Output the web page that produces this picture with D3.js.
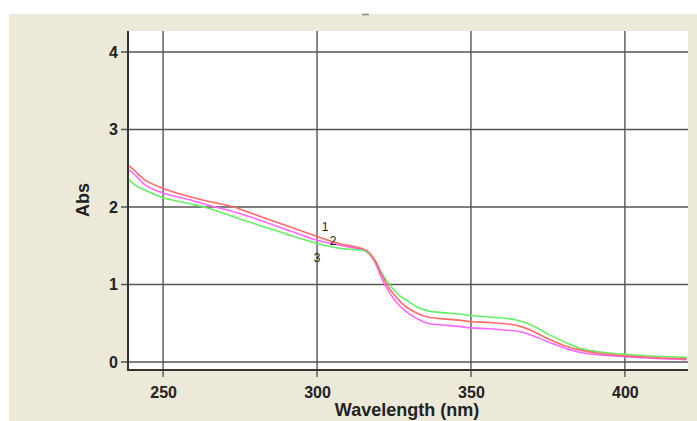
<!DOCTYPE html>
<html>
<head>
<meta charset="utf-8">
<script src="https://cdn.jsdelivr.net/npm/d3@7"></script>
<style>
  body { margin: 0; background: #fff; }
  svg { display: block; }
  text { font-family: "Liberation Sans", Arial, sans-serif; font-weight: bold; fill: #222; }
</style>
</head>
<body>
<svg id="chart" width="697" height="421"></svg>
<script>
  'use strict';

  // wavelengths (nm)
  var wavelength = [239, 241, 244, 250, 259, 265, 273, 280, 290, 300, 307, 312, 315, 317, 319, 321,
    323, 325, 327, 329, 332, 336, 340, 346, 350, 356, 362, 366, 370, 375, 382, 386, 392, 400, 410, 420];

  var absRed = [2.53, 2.46, 2.35, 2.24, 2.13, 2.07, 2.00, 1.90, 1.76, 1.62, 1.53, 1.49, 1.46, 1.41, 1.30, 1.13,
    0.98, 0.87, 0.78, 0.71, 0.64, 0.58, 0.56, 0.54, 0.52, 0.51, 0.49, 0.46, 0.40, 0.30, 0.19, 0.15, 0.11, 0.08, 0.055, 0.04];

  var absMagenta = [2.48, 2.41, 2.29, 2.18, 2.09, 2.02, 1.94, 1.85, 1.71, 1.57, 1.51, 1.47, 1.45, 1.39, 1.27, 1.08,
    0.93, 0.81, 0.72, 0.65, 0.57, 0.50, 0.48, 0.46, 0.44, 0.43, 0.41, 0.39, 0.34, 0.26, 0.16, 0.12, 0.09, 0.07, 0.045, 0.03];

  var absGreen = [2.35, 2.28, 2.22, 2.12, 2.04, 1.98, 1.87, 1.78, 1.65, 1.53, 1.47, 1.45, 1.44, 1.40, 1.30, 1.15,
    1.03, 0.93, 0.85, 0.80, 0.72, 0.66, 0.64, 0.62, 0.60, 0.58, 0.56, 0.53, 0.47, 0.36, 0.23, 0.17, 0.13, 0.10, 0.075, 0.06];

  var xTicks = [250, 300, 350, 400];
  var yTicks = [0, 1, 2, 3, 4];

  // curve numbers as printed near 300 nm
  var curveLabels = ['1', '2', '3'];
  var labelNm = [302.6, 305.2, 300];
  var labelAbs = [1.74, 1.57, 1.34];

  (function () {
    var svg = d3.select('#chart'),
      pLeft = 128, pRight = 688, pTop = 31, pBottom = 370;

    var x = d3.scaleLinear().domain([238.6, 420.5]).range([pLeft, pRight]);
    var y = d3.scaleLinear().domain([-0.103, 4.271]).range([pBottom, pTop]);

    // panel background
    svg.append('rect').attr('x', 9).attr('y', 14).attr('width', 688).attr('height', 407).attr('fill', '#ece9d8');
    svg.append('line').attr('x1', 362).attr('x2', 369).attr('y1', 14.5).attr('y2', 14.5)
      .attr('stroke', '#888').attr('stroke-width', 1.5);
    svg.append('rect').attr('x', pLeft).attr('y', pTop).attr('width', pRight - pLeft).attr('height', pBottom - pTop).attr('fill', '#fff');

    // grid
    var grid = svg.append('g').attr('stroke', '#555').attr('stroke-width', 1.4);
    grid.selectAll('line.v').data(xTicks).enter().append('line')
      .attr('x1', function (d) { return x(d); })
      .attr('x2', function (d) { return x(d); })
      .attr('y1', pTop).attr('y2', pBottom + 7);
    grid.selectAll('line.h').data(yTicks).enter().append('line')
      .attr('y1', function (d) { return y(d); })
      .attr('y2', function (d) { return y(d); })
      .attr('x1', pLeft - 7).attr('x2', pRight);

    // axes (labels)
    var xAxis = svg.append('g').attr('transform', 'translate(0,' + pBottom + ')')
      .call(d3.axisBottom(x).tickValues(xTicks).tickSize(0).tickPadding(17).tickFormat(d3.format('d')));
    var yAxis = svg.append('g').attr('transform', 'translate(' + pLeft + ',0)')
      .call(d3.axisLeft(y).tickValues(yTicks).tickSize(0).tickPadding(10).tickFormat(d3.format('d')));
    [xAxis, yAxis].forEach(function (g) {
      g.select('.domain').remove();
      g.selectAll('text').attr('fill', '#222').style('font-size', '16px');
    });

    // axis frame
    svg.append('path')
      .attr('d', 'M' + pLeft + ',' + pTop + 'V' + pBottom + 'H' + pRight)
      .attr('fill', 'none').attr('stroke', '#333').attr('stroke-width', 2);

    // spectra
    var line = d3.line()
      .x(function (d, i) { return x(wavelength[i]); })
      .y(function (d) { return y(d); })
      .curve(d3.curveCatmullRom.alpha(0.5));

    var series = [
      { values: absMagenta, color: '#ff66ff' },
      { values: absGreen, color: '#66ee66' },
      { values: absRed, color: '#ff6a6a' }
    ];

    svg.append('g').selectAll('path').data(series).enter().append('path')
      .attr('d', function (d) { return line(d.values); })
      .attr('fill', 'none')
      .attr('stroke', function (d) { return d.color; })
      .attr('stroke-width', 1.6);

    svg.append('g').selectAll('text').data(curveLabels).enter().append('text')
      .attr('x', function (d, i) { return x(labelNm[i]); })
      .attr('y', function (d, i) { return y(labelAbs[i]); })
      .attr('dy', '0.35em')
      .attr('text-anchor', 'middle')
      .style('font-size', '12px')
      .style('font-weight', 'normal')
      .attr('fill', function (d, i) { return i === 2 ? '#4a5366' : '#333'; })
      .text(function (d) { return d; });

    // axis titles
    svg.append('text')
      .attr('x', 407).attr('y', 416)
      .attr('text-anchor', 'middle')
      .style('font-size', '18px')
      .text('Wavelength (nm)');

    svg.append('text')
      .attr('transform', 'translate(83,200) rotate(-90)')
      .attr('dy', '0.35em')
      .attr('text-anchor', 'middle')
      .style('font-size', '18px')
      .text('Abs');
  })();
</script>
</body>
</html>
